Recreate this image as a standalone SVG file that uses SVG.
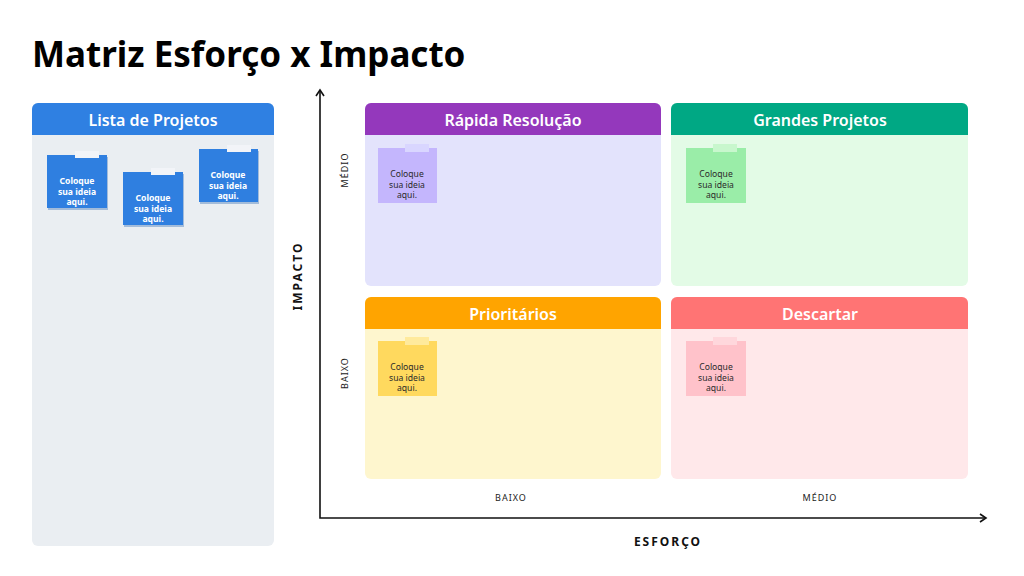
<svg xmlns="http://www.w3.org/2000/svg" width="1024" height="576" viewBox="0 0 1024 576">
<style>
.title{font-family:"Noto Sans","DejaVu Sans",sans-serif;font-weight:700;font-size:35px;fill:#000}
.hdr{font-family:"Noto Sans","DejaVu Sans",sans-serif;font-weight:600;font-size:16px;fill:#fff;text-anchor:middle}
.note{font-family:"Noto Sans","DejaVu Sans",sans-serif;font-size:8.6px;text-anchor:middle}
.noteb{font-weight:700;fill:#fff}
.noted{fill:#2a2a2a}
.ax{font-family:"Noto Sans","DejaVu Sans",sans-serif;font-size:9px;letter-spacing:1px;fill:#222;text-anchor:middle}
.axb{font-family:"Noto Sans","DejaVu Sans",sans-serif;font-size:12px;font-weight:700;letter-spacing:2px;fill:#111;text-anchor:middle}
.line{stroke:#111;stroke-width:1.6;fill:none}
</style>
<rect width="1024" height="576" fill="#fff"/>
<text class="title" x="32" y="67">Matriz Esforço x Impacto</text>

<g id="lista">
<rect x="32" y="103" width="242" height="443" rx="6" fill="#EAEEF2"/>
<path d="M38 103h230a6 6 0 0 1 6 6v26h-242v-26a6 6 0 0 1 6-6z" fill="#2F80E2"/>
<text class="hdr" x="153" y="126">Lista de Projetos</text>
<g id="nota1">
<rect x="48" y="157" width="60" height="53" fill="#1F5FB0" opacity="0.35"/>
<rect x="47" y="155" width="60" height="53" fill="#2F7FE0"/>
<rect x="75" y="151" width="24" height="7" fill="#F2F4F8"/>
<text class="note noteb" x="77" y="184">Coloque</text>
<text class="note noteb" x="77" y="194.5">sua ideia</text>
<text class="note noteb" x="77" y="205">aqui.</text>
</g>
<g id="nota2">
<rect x="124" y="174" width="60" height="53" fill="#1F5FB0" opacity="0.35"/>
<rect x="123" y="172" width="60" height="53" fill="#2F7FE0"/>
<rect x="151" y="168" width="24" height="7" fill="#F2F4F8"/>
<text class="note noteb" x="153" y="201">Coloque</text>
<text class="note noteb" x="153" y="211.5">sua ideia</text>
<text class="note noteb" x="153" y="222">aqui.</text>
</g>
<g id="nota3">
<rect x="200" y="151" width="59" height="53" fill="#1F5FB0" opacity="0.35"/>
<rect x="199" y="149" width="59" height="53" fill="#2F7FE0"/>
<rect x="227" y="145" width="24" height="7" fill="#F2F4F8"/>
<text class="note noteb" x="228" y="178">Coloque</text>
<text class="note noteb" x="228" y="188.5">sua ideia</text>
<text class="note noteb" x="228" y="199">aqui.</text>
</g>
</g>

<g id="rapida">
<rect x="365" y="103" width="296" height="183" rx="6" fill="#E3E3FC"/>
<path d="M371 103h284a6 6 0 0 1 6 6v26h-296v-26a6 6 0 0 1 6-6z" fill="#9438BC"/>
<text class="hdr" x="513" y="126">Rápida Resolução</text>
<rect x="378" y="148" width="59" height="55" fill="#C4B6FD"/>
<rect x="405" y="144" width="24" height="8" fill="#D9D6FF"/>
<text class="note noted" x="407" y="177">Coloque</text>
<text class="note noted" x="407" y="187.5">sua ideia</text>
<text class="note noted" x="407" y="198">aqui.</text>
</g>

<g id="grandes">
<rect x="671" y="103" width="297" height="183" rx="6" fill="#E3FBE6"/>
<path d="M677 103h285a6 6 0 0 1 6 6v26h-297v-26a6 6 0 0 1 6-6z" fill="#00A884"/>
<text class="hdr" x="820" y="126">Grandes Projetos</text>
<rect x="686" y="148" width="60" height="55" fill="#9AEDA8"/>
<rect x="713" y="144" width="24" height="8" fill="#C8F7CD"/>
<text class="note noted" x="716" y="177">Coloque</text>
<text class="note noted" x="716" y="187.5">sua ideia</text>
<text class="note noted" x="716" y="198">aqui.</text>
</g>

<g id="prioritarios">
<rect x="365" y="297" width="296" height="182" rx="6" fill="#FEF6CE"/>
<path d="M371 297h284a6 6 0 0 1 6 6v26h-296v-26a6 6 0 0 1 6-6z" fill="#FFA400"/>
<text class="hdr" x="513" y="320">Prioritários</text>
<rect x="378" y="341" width="59" height="55" fill="#FFD95E"/>
<rect x="405" y="337" width="24" height="8" fill="#FFEA9C"/>
<text class="note noted" x="407" y="370">Coloque</text>
<text class="note noted" x="407" y="380.5">sua ideia</text>
<text class="note noted" x="407" y="391">aqui.</text>
</g>

<g id="descartar">
<rect x="671" y="297" width="297" height="182" rx="6" fill="#FFE8EA"/>
<path d="M677 297h285a6 6 0 0 1 6 6v26h-297v-26a6 6 0 0 1 6-6z" fill="#FF7474"/>
<text class="hdr" x="820" y="320">Descartar</text>
<rect x="686" y="341" width="60" height="55" fill="#FFC2CA"/>
<rect x="713" y="337" width="24" height="8" fill="#FFD7DC"/>
<text class="note noted" x="716" y="370">Coloque</text>
<text class="note noted" x="716" y="380.5">sua ideia</text>
<text class="note noted" x="716" y="391">aqui.</text>
</g>

<g id="eixos">
<path class="line" d="M320 91V518H985"/>
<path class="line" d="M316 96L320 90L324 96"/>
<path class="line" d="M980 514L986 518L980 522"/>
</g>
<g id="rotulos">
<text class="axb" transform="translate(302 276) rotate(-90)">IMPACTO</text>
<text class="ax" transform="translate(348 170) rotate(-90)">MÉDIO</text>
<text class="ax" transform="translate(348 373) rotate(-90)">BAIXO</text>
<text class="ax" x="511" y="501">BAIXO</text>
<text class="ax" x="820" y="501">MÉDIO</text>
<text class="axb" x="668" y="546">ESFORÇO</text>
</g>
</svg>
